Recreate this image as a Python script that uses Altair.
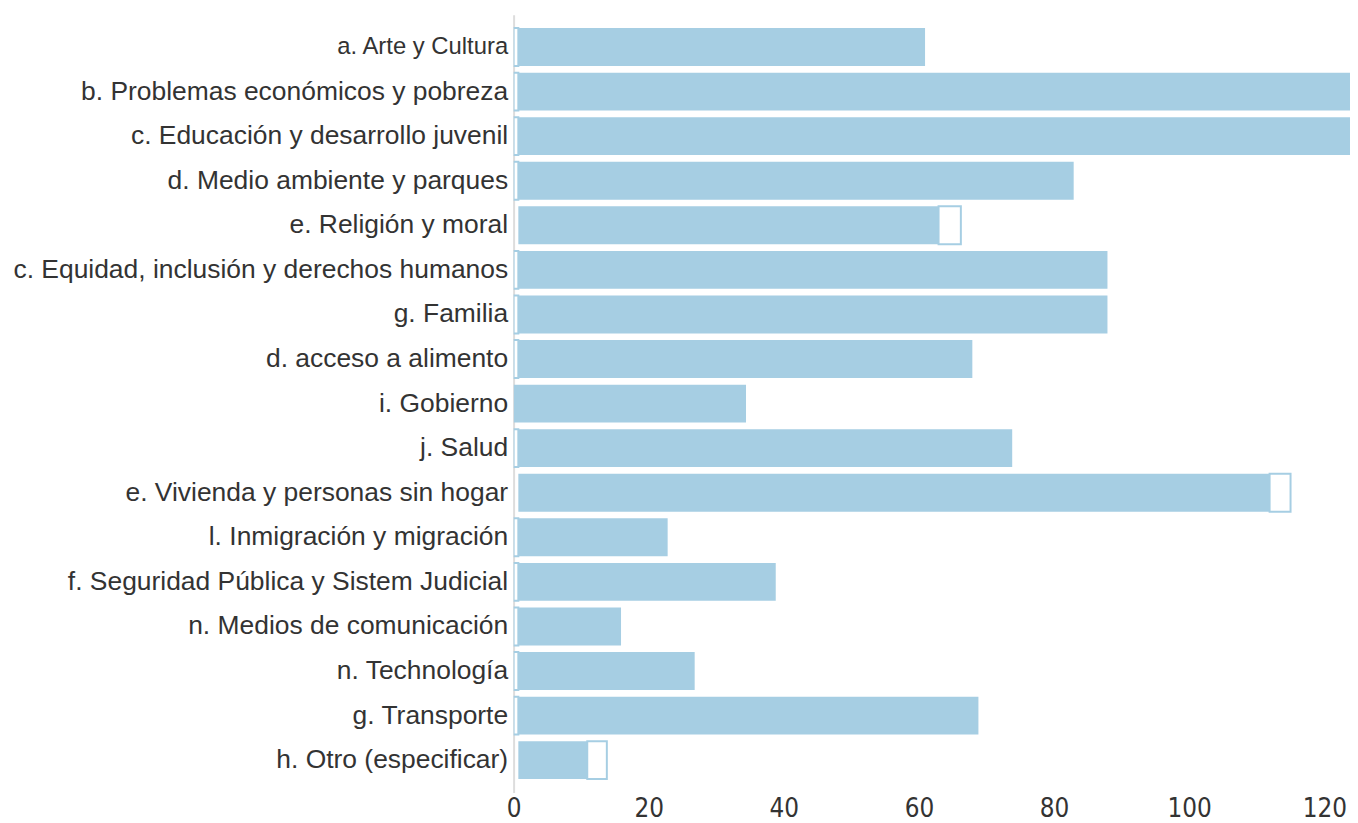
import altair as alt
import pandas as pd

categories = [
    "a. Arte y Cultura",
    "b. Problemas económicos y pobreza",
    "c. Educación y desarrollo juvenil",
    "d. Medio ambiente y parques",
    "e. Religión y moral",
    "c. Equidad, inclusión y derechos humanos",
    "g. Familia",
    "d. acceso a alimento",
    "i. Gobierno",
    "j. Salud",
    "e. Vivienda y personas sin hogar",
    "l. Inmigración y migración",
    "f. Seguridad Pública y Sistem Judicial",
    "n. Medios de comunicación",
    "n. Technología",
    "g. Transporte",
    "h. Otro (especificar)",
]
# start of the blue segment (small outlined lead segment before it)
blue_start = [0.7, 0.7, 0.7, 0.7, 0.7, 0.7, 0.7, 0.7, 0.0, 0.7, 0.7, 0.7, 0.7, 0.7, 0.7, 0.7, 0.7]
lead_outlined = [1, 1, 1, 1, 0, 1, 1, 1, 0, 1, 0, 1, 1, 1, 1, 1, 0]
blue_end = [60.9, 130, 130, 82.9, 62.9, 87.9, 87.9, 67.9, 34.4, 73.8, 111.9, 22.8, 38.8, 15.9, 26.8, 68.8, 10.9]
white_end = [None, None, None, None, 66.2, None, None, None, None, None, 115.0, None, None, None, None, None, 13.8]
tick_values = [0, 20, 40, 60, 80, 100, 120]

BLUE = "#a6cee3"

lead = pd.DataFrame({
    "cat": [c for c, f in zip(categories, lead_outlined) if f],
    "x0": [0.0 for f in lead_outlined if f],
    "x1": [s for s, f in zip(blue_start, lead_outlined) if f],
})
blue = pd.DataFrame({"cat": categories, "x0": blue_start, "x1": blue_end})
tail = pd.DataFrame({
    "cat": [c for c, w in zip(categories, white_end) if w is not None],
    "x0": [b for b, w in zip(blue_end, white_end) if w is not None],
    "x1": [w for w in white_end if w is not None],
})

y_enc = alt.Y(
    "cat:N",
    sort=categories,
    scale=alt.Scale(paddingInner=0.15, paddingOuter=0.3),
    axis=alt.Axis(
        title=None,
        domain=True,
        domainColor="#dddddd",
        domainWidth=2,
        ticks=False,
        grid=False,
        labelFont="Liberation Sans",
        labelFontSize={"condition": {"test": "datum.value == 'a. Arte y Cultura'", "value": 24}, "value": 26.6},
        labelColor="#333333",
        labelPadding=6,
        labelLimit=0,
    ),
)
x_scale = alt.Scale(domain=[0, 123.8], nice=False, zero=True)
x_axis = alt.Axis(
    title=None,
    domain=False,
    ticks=False,
    grid=False,
    values=tick_values,
    labelFont="Liberation Sans Narrow, DejaVu Sans Condensed, Roboto Condensed, Liberation Sans, sans-serif",
    labelFontSize=26,
    labelColor="#333333",
    labelPadding=3,
    labelFlush=False,
)

lead_layer = alt.Chart(lead).mark_bar(fill="white", stroke=BLUE, strokeWidth=2, clip=True).encode(
    x=alt.X("x0:Q", scale=x_scale, axis=x_axis), x2="x1:Q", y=y_enc
)
blue_layer = alt.Chart(blue).mark_bar(fill=BLUE, clip=True).encode(
    x=alt.X("x0:Q", scale=x_scale, axis=x_axis), x2="x1:Q", y=y_enc
)
tail_layer = alt.Chart(tail).mark_bar(fill="white", stroke=BLUE, strokeWidth=2, clip=True).encode(
    x=alt.X("x0:Q", scale=x_scale, axis=x_axis), x2="x1:Q", y=y_enc
)

chart = (
    alt.layer(lead_layer, blue_layer, tail_layer)
    .properties(
        width=842, height=783, background="white",
        padding={"left": 4, "top": 4, "right": 0, "bottom": 0},
    )
    .configure_view(strokeWidth=0, stroke="transparent")
)

chart.save("out.html", embed_options={"renderer": "svg", "actions": False})
